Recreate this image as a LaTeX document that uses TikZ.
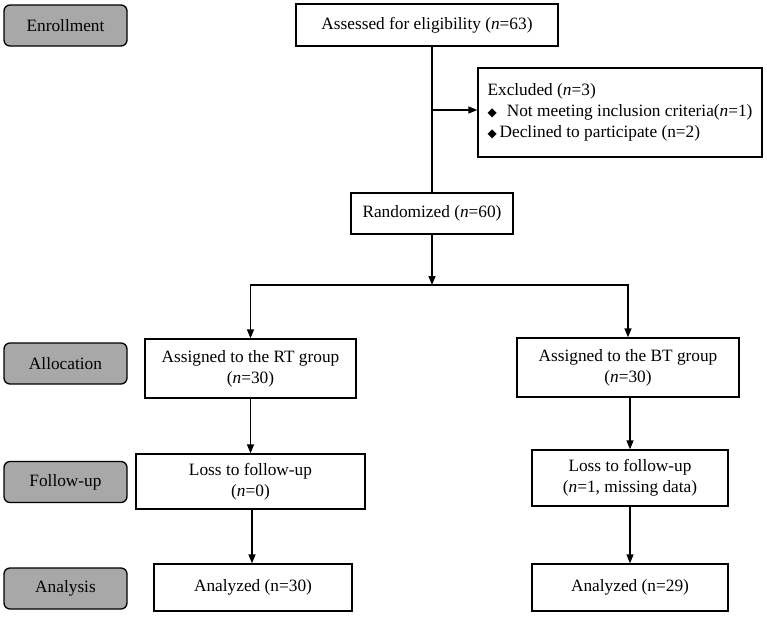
\documentclass[tikz,border=0pt]{standalone}
\usepackage{fontspec}
\setmainfont{Liberation Serif}
\newfontfamily\symfont{DejaVu Sans}
\usetikzlibrary{arrows.meta}
\definecolor{labelgray}{RGB}{168,168,168}
\begin{document}
\begin{tikzpicture}[x=1pt,y=-1pt,
  every node/.style={font=\fontsize{17.3}{21}\selectfont},
  stage/.style={draw=black,line width=1.3pt,fill=labelgray,rounded corners=6pt,minimum width=123pt,minimum height=41pt,inner sep=0pt},
  flowbox/.style={draw=black,line width=1.3pt,fill=white,align=center,inner sep=0pt},
  arr/.style={line width=1.3pt,-{Triangle[length=9pt,width=7pt]}},
  ln/.style={line width=1.3pt}]
\useasboundingbox (0,0) rectangle (767,616);
% stage labels
\node[stage] (enr) at (65.5,25.5) {Enrollment};
\node[stage] (alloc) at (65.5,363.5) {Allocation};
\node[stage] (fup) at (65.5,482) {Follow-up};
\node[stage] (ana) at (65.5,588.5) {Analysis};
% flow boxes
\node[flowbox,minimum width=262pt,minimum height=42pt] (assess) at (427,25) {Assessed for eligibility (\textit{n}=63)};
\node[flowbox,minimum width=284pt,minimum height=89pt,align=left] (excl) at (620,112.5)
  {Excluded (\textit{n}=3)\\
   {\symfont\fontsize{12}{21}\selectfont ◆}\,\, Not meeting inclusion criteria(\textit{n}=1)\\
   {\symfont\fontsize{12}{21}\selectfont ◆}\,Declined to participate (n=2)};
\node[flowbox,minimum width=162pt,minimum height=41pt] (rand) at (432,213.5) {Randomized (\textit{n}=60)};
\node[flowbox,minimum width=211pt,minimum height=59pt] (rt) at (250.5,368.5) {Assigned to the RT group\\(\textit{n}=30)};
\node[flowbox,minimum width=222pt,minimum height=59pt] (bt) at (628,367.5) {Assigned to the BT group\\(\textit{n}=30)};
\node[flowbox,minimum width=229pt,minimum height=55pt] (rtf) at (250.5,481.5) {Loss to follow-up\\(\textit{n}=0)};
\node[flowbox,minimum width=196pt,minimum height=56pt] (btf) at (630,478) {Loss to follow-up\\(\textit{n}=1, missing data)};
\node[flowbox,minimum width=198pt,minimum height=47pt] (rta) at (253,587.5) {Analyzed (n=30)};
\node[flowbox,minimum width=196pt,minimum height=47pt] (bta) at (630,587.5) {Analyzed (n=29)};
% connectors
\coordinate (top) at (rand.north |- assess.south);
\coordinate (j1) at (432,110);
\coordinate (split) at (432,285);
\draw[ln] (top) -- (rand.north);
\draw[arr] (j1) -- (j1 -| excl.west);
\draw[arr] (rand.south) -- (split);
\draw[arr] (split) -| (rt.north);
\draw[arr] (split) -| (bt.north);
\draw[arr] (rt.south) -- (rt.south |- rtf.north);
\draw[arr] (bt.south -| btf.north) -- (btf.north);
\draw[arr] (rtf.south -| 252,0) -- (rta.north -| 252,0);
\draw[arr] (btf.south) -- (bta.north);
\end{tikzpicture}
\end{document}
